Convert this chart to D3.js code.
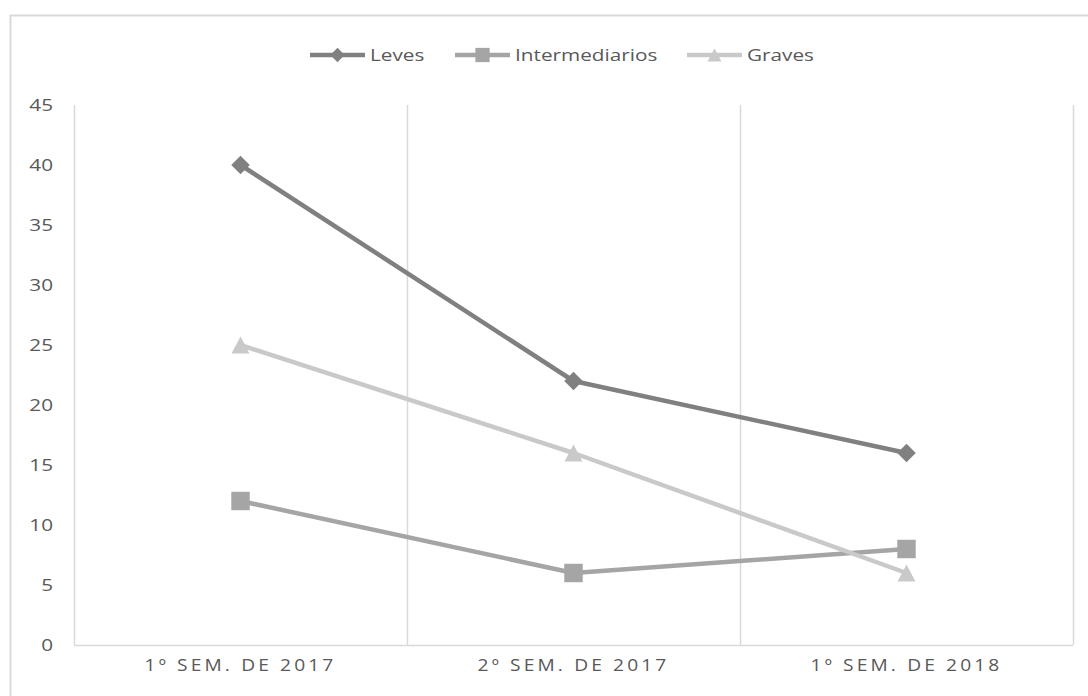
<!DOCTYPE html>
<html><head><meta charset="utf-8">
<script src="https://cdn.jsdelivr.net/npm/d3@7"></script>
<style>body{margin:0;background:#fff;} svg{display:block;font-family:"Open Sans","Noto Sans",sans-serif;}</style>
</head><body>
<svg id="c" width="1088" height="696"></svg>
<script>
const categories = ["1º SEM. DE 2017", "2º SEM. DE 2017", "1º SEM. DE 2018"];
const leves = [40, 22, 16];
const intermediarios = [12, 6, 8];
const graves = [25, 16, 6];
const yTicks = [0, 5, 10, 15, 20, 25, 30, 35, 40, 45];
const seriesNames = ["Leves", "Intermediarios", "Graves"];

const diamond = {draw(ctx, size){ const r = Math.sqrt(size / 2); ctx.moveTo(0,-r); ctx.lineTo(r,0); ctx.lineTo(0,r); ctx.lineTo(-r,0); ctx.closePath(); }};
const triangle = {draw(ctx, size){ const s = Math.sqrt(size); const h = s*0.95; ctx.moveTo(0,-h/2); ctx.lineTo(s/2,h/2); ctx.lineTo(-s/2,h/2); ctx.closePath(); }};

const series = [
  {name: seriesNames[0], values: leves, color: "#808080", shape: diamond, size: 170},
  {name: seriesNames[1], values: intermediarios, color: "#a5a5a5", shape: d3.symbolSquare, size: 340},
  {name: seriesNames[2], values: graves, color: "#c9c9c9", shape: triangle, size: 320}
];

const svg = d3.select("#c");
svg.append("rect").attr("x", 10.5).attr("y", 15.5).attr("width", 1100).attr("height", 700)
  .attr("fill", "none").attr("stroke", "#d9d9d9").attr("stroke-width", 2);

const L = 74, R = 1073, T = 105, B = 645;
const x = d3.scaleBand().domain(categories).range([L, R]);
const y = d3.scaleLinear().domain([0, 45]).range([B, T]);

const bounds = [L].concat(categories.map(c => x(c) + x.bandwidth()));
svg.append("g").selectAll("line").data(bounds).join("line")
  .attr("x1", d => Math.round(d) + 0.5).attr("x2", d => Math.round(d) + 0.5)
  .attr("y1", T).attr("y2", B)
  .attr("stroke", "#d9d9d9").attr("stroke-width", 1.5);
svg.append("line").attr("x1", L).attr("x2", R).attr("y1", B + 0.5).attr("y2", B + 0.5)
  .attr("stroke", "#d9d9d9").attr("stroke-width", 1.5);

const yAxis = d3.axisLeft(y).tickValues(yTicks).tickSize(0).tickPadding(0);
const gy = svg.append("g").attr("transform", `translate(${L - 21},0)`).call(yAxis);
gy.select(".domain").remove();
gy.selectAll("text").attr("font-size", 17).attr("fill", "#595959")
  .attr("font-family", '"Open Sans","Noto Sans",sans-serif')
  .attr("transform", "scale(1.22,1)");

const xAxis = d3.axisBottom(x).tickSize(0).tickPadding(0);
const gx = svg.append("g").attr("transform", `translate(0,${B + 15})`).call(xAxis);
gx.select(".domain").remove();
gx.selectAll("text").attr("font-size", 16).attr("fill", "#595959")
  .attr("letter-spacing", "2.6px")
  .attr("font-family", '"Open Sans","Noto Sans",sans-serif')
  .attr("transform", "scale(1.2,1)");

const line = d3.line().x((d, i) => x(categories[i]) + x.bandwidth() / 2).y(d => y(d));
series.forEach(s => {
  svg.append("path").datum(s.values).attr("d", line)
    .attr("fill", "none").attr("stroke", s.color).attr("stroke-width", 4.5)
    .attr("stroke-linejoin", "round");
  svg.append("g").selectAll("path").data(s.values).join("path")
    .attr("d", d3.symbol().type(s.shape).size(s.size))
    .attr("transform", (d, i) => `translate(${x(categories[i]) + x.bandwidth() / 2},${y(d)})`)
    .attr("fill", s.color);
});

const legX = [310, 455, 687];
const legY = 55;
series.forEach((s, i) => {
  const g = svg.append("g").attr("transform", `translate(${legX[i]},${legY})`);
  g.append("line").attr("x1", 0).attr("x2", 55).attr("stroke", s.color).attr("stroke-width", 4.5);
  g.append("path").attr("d", d3.symbol().type(s.shape).size(s.size * 0.6)).attr("transform", "translate(27.5,0)").attr("fill", s.color);
  g.append("text").attr("x", 60 / 1.22).attr("dy", "0.36em").attr("font-size", 17).attr("fill", "#595959")
    .attr("transform", "scale(1.22,1)").text(s.name);
});
</script>
</body></html>
